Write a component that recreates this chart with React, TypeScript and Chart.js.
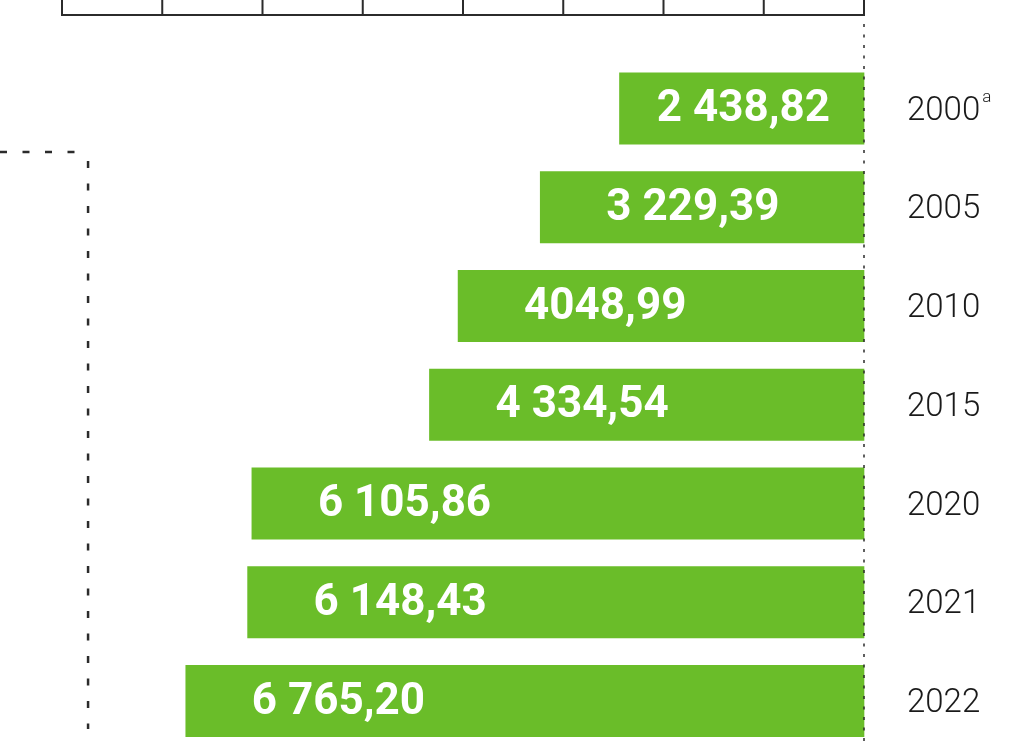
import React, { useEffect, useRef } from "react";
import { Chart, registerables } from "chart.js";

Chart.register(...registerables);

// ---- data ----
const years = ["2000", "2005", "2010", "2015", "2020", "2021", "2022"];
const yearNotes = ["a", "", "", "", "", "", ""];
const values = [2438.82, 3229.39, 4048.99, 4334.54, 6105.86, 6148.43, 6765.2];
const valueLabels = ["2 438,82", "3 229,39", "4048,99", "4 334,54", "6 105,86", "6 148,43", "6 765,20"];
const axisTicks = [0, 1000, 2000, 3000, 4000, 5000, 6000, 7000, 8000];
const axisMax = 8000;
const bracketValue = 7740; // x-value of the dotted bracket on the left
const bracketCategory = 0.44; // category position of the bracket's corner

const GREEN = "#6abd29";
const INK = "#2b2b2b";

const overlayPlugin = {
  id: "overlay",
  afterDatasetsDraw(chart: any) {
    const ctx = chart.ctx as CanvasRenderingContext2D;
    const xs = chart.scales.x;
    const ys = chart.scales.y;
    const H = chart.height;
    const zeroX = xs.getPixelForValue(0);

    ctx.save();
    // top scale box
    ctx.strokeStyle = INK;
    ctx.lineWidth = 2;
    ctx.setLineDash([]);
    const boxY = 15;
    ctx.beginPath();
    ctx.moveTo(xs.getPixelForValue(axisMax) - 1, boxY);
    ctx.lineTo(zeroX + 1, boxY);
    axisTicks.forEach((t) => {
      const x = xs.getPixelForValue(t);
      ctx.moveTo(x, -2);
      ctx.lineTo(x, boxY);
    });
    ctx.stroke();

    // dotted zero line
    ctx.lineWidth = 1.5;
    ctx.setLineDash([3, 7.5]);
    ctx.beginPath();
    ctx.moveTo(zeroX, 24);
    ctx.lineTo(zeroX, H);
    ctx.stroke();

    // left dotted bracket
    const bx = xs.getPixelForValue(bracketValue);
    const by = ys.getPixelForValue(bracketCategory);
    ctx.lineWidth = 2.5;
    ctx.setLineDash([7, 15.5]);
    ctx.beginPath();
    ctx.moveTo(0, by);
    ctx.lineTo(bx - 12, by);
    ctx.stroke();
    ctx.beginPath();
    ctx.moveTo(bx, by + 9);
    ctx.lineTo(bx, H - 12);
    ctx.stroke();
    ctx.setLineDash([]);

    // value labels
    ctx.font = "bold 44px Roboto, 'Open Sans', sans-serif";
    ctx.fillStyle = "#ffffff";
    ctx.textBaseline = "alphabetic";
    ctx.textAlign = "left";
    values.forEach((v, i) => {
      const left = xs.getPixelForValue(v);
      const label = valueLabels[i];
      const w = ctx.measureText(label).width;
      const x = Math.min(left + 66, zeroX - 34 - w);
      const y = ys.getPixelForValue(i) + 12.5;
      ctx.fillText(label, x, y);
    });

    // year labels
    years.forEach((yr, i) => {
      const y = ys.getPixelForValue(i) + 11;
      const x = zeroX + 43;
      ctx.font = "300 33px Roboto, 'Open Sans', sans-serif";
      ctx.fillStyle = "#1a1a1a";
      ctx.fillText(yr, x, y);
      if (yearNotes[i]) {
        const w = ctx.measureText(yr).width;
        ctx.font = "300 17px Roboto, 'Open Sans', sans-serif";
        ctx.fillText(yearNotes[i], x + w + 2, y - 18);
      }
    });
    ctx.restore();
  },
};

export default function App() {
  const ref = useRef<HTMLCanvasElement | null>(null);
  useEffect(() => {
    if (!ref.current) return;
    const chart = new Chart(ref.current, {
      type: "bar",
      data: {
        labels: years,
        datasets: [
          {
            data: values,
            backgroundColor: GREEN,
            borderWidth: 0,
            barThickness: 71.5,
            clip: false,
          } as any,
        ],
      },
      options: {
        indexAxis: "y",
        responsive: false,
        animation: false,
        layout: { padding: { left: 62, right: 167, top: 108.5, bottom: 40 } },
        plugins: { legend: { display: false }, tooltip: { enabled: false } },
        scales: {
          x: { type: "linear", reverse: true, min: 0, max: axisMax, display: false },
          y: { type: "category", offset: false, display: false },
        },
      },
      plugins: [overlayPlugin],
    });
    return () => chart.destroy();
  }, []);
  return (
    <div style={{ position: "fixed", left: 0, top: 0, width: 1031, height: 741, background: "#fff" }}>
      <canvas ref={ref} width={1031} height={741} style={{ display: "block" }} />
    </div>
  );
}
